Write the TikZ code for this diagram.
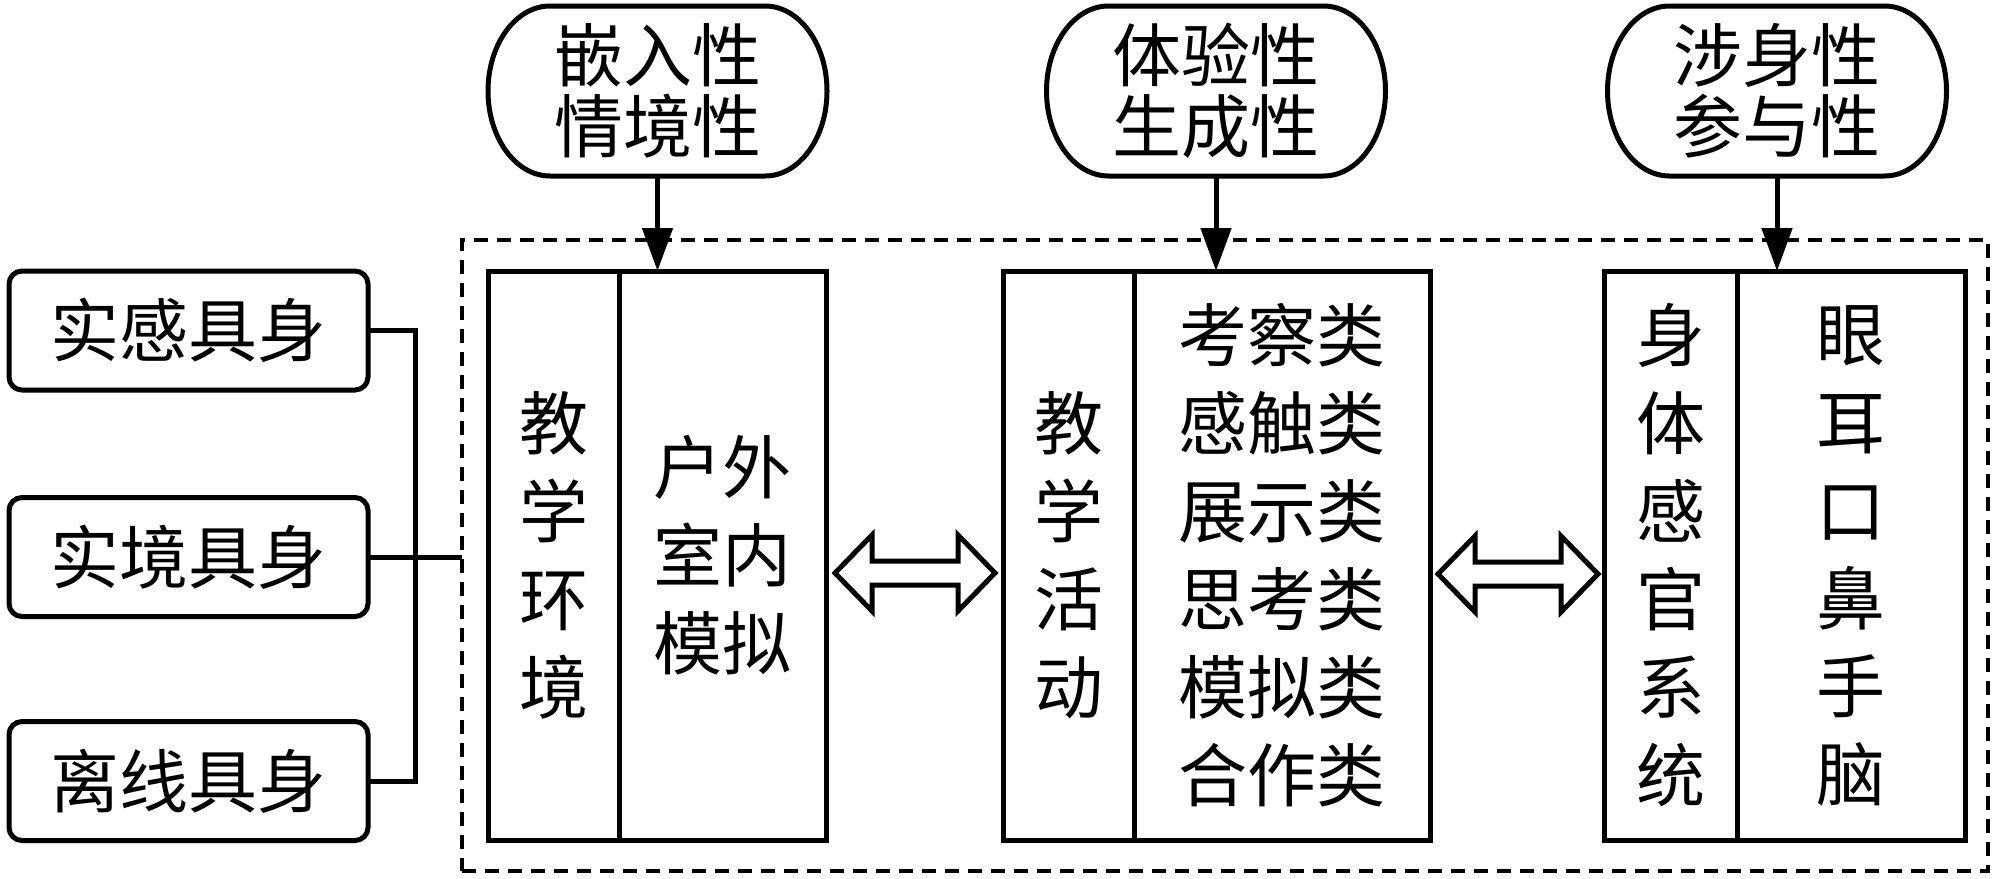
\documentclass[tikz,border=0pt]{standalone}
\usepackage{fontspec}
\newfontfamily\cjk{Noto Sans CJK SC}
\usetikzlibrary{arrows.meta,calc}
\newcommand\ovalshape[1]{\draw[ovalline] ($(#1.north west)+(62,0)$) -- ($(#1.north east)+(-62,0)$) arc[start angle=90,end angle=-90,x radius=62pt,y radius=85pt] -- ($(#1.south west)+(62,0)$) arc[start angle=270,end angle=90,x radius=62pt,y radius=85pt] -- cycle;}
\newcommand\hollowdbl[2]{\draw[hollowarr] (#1) -- ($(#1)+(37,-38)$) -- ($(#1)+(37,-12)$) -- ($(#2)+(-37,-12)$) -- ($(#2)+(-37,-38)$) -- (#2) -- ($(#2)+(-37,38)$) -- ($(#2)+(-37,12)$) -- ($(#1)+(37,12)$) -- ($(#1)+(37,38)$) -- cycle;}
\begin{document}
\begin{tikzpicture}[x=1pt,y=-1pt,
  every node/.style={inner sep=0pt, outer sep=0pt},
  txt/.style={font=\cjk\fontsize{69}{88}\selectfont, align=center},
  lbox/.style={txt, draw, line width=5pt, rounded corners=13pt, minimum width=359pt, minimum height=119pt},
  col/.style={txt, draw, line width=5pt, minimum height=569pt},
  ovaltext/.style={font=\cjk\fontsize{69}{71}\selectfont, align=center, minimum width=339pt, minimum height=170pt},
  ovalline/.style={line width=5pt},
  dashframe/.style={draw, line width=3.5pt, dash pattern=on 14pt off 9pt, minimum width=1526pt, minimum height=631pt},
  link/.style={line width=5pt},
  downarrow/.style={line width=5pt, -{Triangle[length=43pt,width=30pt]}},
  hollowarr/.style={draw, line width=5pt, fill=white, line join=miter}]
\useasboundingbox (0,0) rectangle (1999,878);
% dashed frame
\node[dashframe] (fr) at (1225,555.5) {};
% left boxes
\node[lbox] (lb1) at (188.5,330.5) {实感具身};
\node[lbox] (lb2) at (188.5,557) {实境具身};
\node[lbox] (lb3) at (188.5,781) {离线具身};
% columns
\node[col, minimum width=131pt] (b1l) at (553.5,555.5) {教\\学\\环\\境};
\node[col, minimum width=207pt] (b1r) at (722.5,555.5) {户外\\室内\\模拟};
\node[col, minimum width=131pt] (b2l) at (1068.5,555.5) {教\\学\\活\\动};
\node[col, minimum width=296pt] (b2r) at (1282,555.5) {考察类\\感触类\\展示类\\思考类\\模拟类\\合作类};
\node[col, minimum width=133pt] (b3l) at (1670.5,555.5) {身\\体\\感\\官\\系\\统};
\node[col, minimum width=228pt] (b3r) at (1851,555.5) {眼\\耳\\口\\鼻\\手\\脑};
% top ovals
\node[ovaltext] (ov1) at (657.5,91) {嵌入性\\情境性};
\node[ovaltext] (ov2) at (1216,91) {体验性\\生成性};
\node[ovaltext] (ov3) at (1777,91) {涉身性\\参与性};
\ovalshape{ov1}
\ovalshape{ov2}
\ovalshape{ov3}
% down arrows
\draw[downarrow] (ov1.south) -- (ov1.south |- b1r.north);
\draw[downarrow] (ov2.south) -- (ov2.south |- b2r.north);
\draw[downarrow] (ov3.south) -- (ov3.south |- b3r.north);
% bracket connectors
\coordinate (jn) at (415,557);
\draw[link] (lb1.east) -| (jn) |- (lb3.east);
\draw[link] (lb2.east) -- (lb2.east -| fr.west);
% hollow double arrows
\coordinate (t1L) at ($(b1r.east)+(9,17.5)$);
\coordinate (t1R) at ($(b2l.west)+(-8,17.5)$);
\coordinate (t2L) at ($(b2r.east)+(8,18.5)$);
\coordinate (t2R) at ($(b3l.west)+(-6,18.5)$);
\hollowdbl{t1L}{t1R}
\hollowdbl{t2L}{t2R}
\end{tikzpicture}
\end{document}
